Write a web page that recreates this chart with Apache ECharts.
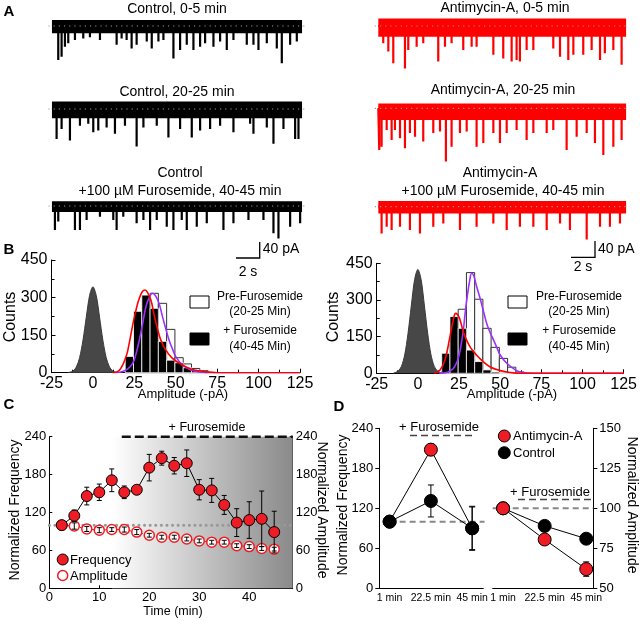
<!DOCTYPE html>
<html><head><meta charset="utf-8">
<script src="https://cdn.jsdelivr.net/npm/echarts@6/dist/echarts.min.js"></script>
<style>html,body{margin:0;padding:0;background:#fff}#c{width:640px;height:621px}</style>
</head><body><div id="c"></div>
<script>
// ---------- Panel A: traces (time s, event amplitude pA) ----------
const traceStart = 0, traceEnd = 21;
const ctrl0Spikes = [[0.53,85],[0.81,77],[1.09,52],[1.37,43],[1.93,35],[2.63,31],[3.19,28],[4.03,35],[5.43,47],[5.85,31],[6.27,35],[6.69,56],[7.11,47],[7.96,39],[8.38,56],[8.94,39],[9.36,35],[10.2,81],[10.76,60],[11.32,47],[11.88,60],[12.44,52],[12.86,43],[13.56,52],[14.12,39],[14.68,60],[15.24,35],[16.36,47],[16.92,47],[17.34,60],[18.04,43],[18.88,56],[19.3,93],[20.0,47],[20.56,39]];
const ctrl20Spikes = [[0.39,75],[0.81,50],[1.51,79],[2.35,42],[3.05,37],[3.47,58],[3.89,54],[4.59,46],[5.29,62],[6.13,42],[7.11,94],[7.68,46],[8.8,42],[9.78,71],[10.76,50],[11.74,71],[12.44,54],[13.28,50],[14.12,42],[15.24,58],[16.64,37],[16.92,62],[18.04,46],[18.6,87],[19.44,50],[20.42,75],[20.7,75]];
const ctrl40Spikes = [[0.25,60],[0.53,39],[1.93,60],[2.35,60],[2.91,35],[4.03,27],[5.15,35],[5.43,60],[5.99,27],[7.11,43],[7.68,35],[8.24,60],[8.8,35],[9.64,52],[10.2,60],[10.9,35],[11.32,60],[12.16,52],[13.0,43],[14.4,60],[15.24,43],[16.5,35],[17.76,35],[18.6,68],[19.02,81],[20.0,52],[20.84,43]];
const anti0Spikes = [[0.42,43],[0.85,64],[1.27,93],[2.26,106],[2.54,60],[3.25,52],[3.81,43],[5.08,89],[5.65,52],[6.21,43],[7.2,60],[7.91,52],[8.33,52],[9.75,72],[10.59,81],[11.3,89],[11.72,85],[12.0,89],[12.57,60],[13.14,60],[14.83,56],[15.4,77],[16.1,85],[16.53,72],[17.37,72],[18.08,60],[18.79,85],[19.2,68],[19.92,60],[20.62,97]];
const anti20Spikes = [[0.08,104],[0.28,96],[0.71,54],[1.13,79],[1.41,54],[1.84,75],[2.26,100],[2.68,62],[3.11,71],[3.81,83],[4.66,62],[5.23,58],[5.73,133],[6.21,96],[6.92,62],[7.49,58],[8.33,96],[8.9,87],[9.75,62],[10.31,87],[10.88,62],[11.72,54],[12.57,79],[13.14,62],[14.27,62],[14.83,54],[15.96,104],[16.81,71],[17.66,62],[18.36,87],[19.07,117],[19.92,96],[20.62,79]];
const anti40Spikes = [[0.28,67],[0.71,50],[1.13,58],[1.84,50],[2.68,58],[3.53,67],[4.66,50],[5.51,42],[6.92,58],[8.33,50],[9.75,42],[10.88,58],[12.0,50],[13.14,50],[14.27,58],[15.4,42],[16.24,58],[17.66,82],[18.79,50],[19.63,50],[20.48,42]];
// noise envelope [above, below] baseline, pA
const ctrl0Band = [15,18], ctrl20Band = [19,23], ctrl40Band = [12,15];
const anti0Band = [19,27], anti20Band = [12,29], anti40Band = [14,17];
const traceTitlesLeft = ['Control, 0-5 min','Control, 20-25 min','Control','+100 µM Furosemide, 40-45 min'];
const traceTitlesRight = ['Antimycin-A, 0-5 min','Antimycin-A, 20-25 min','Antimycin-A','+100 µM Furosemide, 40-45 min'];

// ---------- Panel B: amplitude histograms ----------
const binWidth = 5;
const ctrlBinStarts = [19.5,24.5,29.5,34.5,39.5,44.5,49.5,54.5,59.5,64.5];
const ctrlPreCounts = [10,80,230,317,277,173,60,35,17,8];
const ctrlFuroCounts = [65,245,310,257,125,50,40,20,10,5];
const antiBinStarts = [14.5,19.5,24.5,29.5,34.5,39.5,44.5,49.5,54.5,59.5];
const antiPreCounts = [10,120,262,412,303,184,106,61,25,5];
const antiFuroCounts = [82,232,184,95,48,14,5,0,0,0];
const ctrlNoise = [[-15,0],[-12,7],[-10,23],[-8,61],[-6,130],[-4,222],[-2,309],[0,343],[2,309],[4,222],[6,130],[8,61],[10,23],[12,7],[15,0]];
const antiNoise = [[-15,0],[-12,9],[-10,28],[-8,75],[-6,162],[-4,275],[-2,383],[0,425],[2,383],[4,275],[6,162],[8,75],[10,28],[12,9],[15,0]];
const ctrlFuroFit = [[12,0],[16,10],[20,64],[22,120],[24,190],[26,250],[28,297],[30,325],[31.5,330],[33,320],[35,290],[37,230],[39,175],[41,130],[44,90],[48,57],[54,31],[60,13],[68,4],[75,0],[125,0]];
const ctrlPreFit = [[14,0],[18,5],[21,15],[24,37],[26,75],[28,130],[30,195],[32,264],[34,300],[36,317],[38,305],[40,275],[42,224],[44,175],[46,130],[48,95],[50,64],[54,31],[59,11],[64,3],[70,0],[125,0]];
const antiFuroFit = [[10,0],[13.5,14],[16.5,55],[19.5,150],[21.5,218],[23,245],[25,230],[27,185],[29,145],[32,105],[36,72],[40,46],[44,26],[50,11],[56,3],[62,0],[125,0]];
const antiPreFit = [[13,0],[18,4],[21.5,20],[24,50],[25.7,95],[27.5,170],[28.7,245],[30,315],[31.5,380],[32.7,409],[34,398],[35.5,360],[37.8,307],[40,250],[42,200],[44,165],[46,136],[48,105],[50,75],[54,41],[60,11],[64,3],[70,0],[125,0]];

// ---------- Panel C: time course ----------
const timeMin = [2.5,5,7.5,10,12.5,15,17.5,20,22.5,25,27.5,30,32.5,35,37.5,40,42.5,45];
const normFreq = [100,115,146,152,171,152,156,191,206,194,198,156,155,132,104,108,110,89];
const normFreqErr = [3,9,14,13,18,10,6,21,11,13,21,16,19,15,22,29,44,33];
const normAmp = [100,98.6,94,92,93,93,89,84,81,81,78,75,73,73,67.5,66,63,62];
const normAmpErr = [3,5,4,4,3,4,4,3,3,3,3,3,3,3,3,3,3,3];
const furoStartMin = 14.5, timeAxisMax = 48.7, gradientStartMin = 12.5;

// ---------- Panel D: summary ----------
const dCats = ['1 min','22.5 min','45 min'];
const dFreqAnti = [100,208,90], dFreqAntiErr = [0,9,33];
const dFreqCtrl = [100,131,90], dFreqCtrlErr = [0,24,32];
const dAmpAnti = [100,80.5,62], dAmpAntiErr = [0,1.5,4.5];
const dAmpCtrl = [100,89,81], dAmpCtrlErr = [0,1,1.5];
const refLevel = 100;

// ---------- helpers ----------
const FONT = 'Liberation Sans, Arial, sans-serif';
const RED = '#ee1c24';
function spikePath(spikes){
  const pts=[[traceStart,0]];
  spikes.forEach(s=>{pts.push([s[0],0],[s[0],-s[1]],[s[0],0]);});
  pts.push([traceEnd,0]);
  return pts;
}
function histRender(fill, stroke, lw){
  return function(params, api){
    const p0 = api.coord([api.value(0), api.value(2)]);
    const p1 = api.coord([api.value(1), 0]);
    return {type:'rect', shape:{x:p0[0], y:p0[1], width:p1[0]-p0[0], height:p1[1]-p0[1]}, style:{fill:fill, stroke:stroke, lineWidth:lw}};
  };
}
function errRender(cap){
  return function(params, api){
    const x=api.value(0), y=api.value(1), e=api.value(2);
    if(!e) return {type:'group', children:[]};
    const a=api.coord([x,y+e]), b=api.coord([x,y-e]);
    const st={stroke:'#000', lineWidth:1};
    return {type:'group', children:[
      {type:'line', shape:{x1:a[0],y1:a[1],x2:b[0],y2:b[1]}, style:st},
      {type:'line', shape:{x1:a[0]-cap,y1:a[1],x2:a[0]+cap,y2:a[1]}, style:st},
      {type:'line', shape:{x1:b[0]-cap,y1:b[1],x2:b[0]+cap,y2:b[1]}, style:st}]};
  };
}
function bins(starts, counts){ return starts.map((s,i)=>[s, s+binWidth, counts[i]]); }
function txt(text, x, y, size, o){
  o = o || {};
  return {type:'text', x:x, y:y, rotation:o.rot||0, z:100,
    style:{text:text, font:(o.bold?'bold ':'')+size+'px '+FONT, fill:o.fill||'#000',
      textAlign:o.align||'center', textVerticalAlign:'middle', align:o.align||'center', verticalAlign:'middle'}};
}
const axLine = {show:true, onZero:false, lineStyle:{color:'#000', width:1}};

// ---------- grids & axes ----------
const grid = [
  {left:46, top:6, width:262, height:76},
  {left:46, top:89, width:262, height:76},
  {left:46, top:186, width:262, height:76},
  {left:372.4, top:6, width:259.6, height:76},
  {left:372.4, top:88.3, width:259.6, height:76},
  {left:372.4, top:186.7, width:259.6, height:76},
  {left:51.5, top:260, width:248.5, height:112.7},
  {left:376.7, top:263.3, width:247.3, height:110},
  {left:49.3, top:436.7, width:243.4, height:151.6},
  {left:379.3, top:428.3, width:104, height:160},
  {left:492.7, top:428.3, width:100.6, height:160}
];
const xAxis = [], yAxis = [];
for(let i=0;i<6;i++){
  xAxis.push({gridIndex:i, type:'value', min:-0.5, max:21.5, show:false});
  yAxis.push({gridIndex:i, type:'value', min:-140, max:50, show:false});
}
function histX(g){ return {gridIndex:g, type:'value', min:-25, max:125, interval:25, axisLine:axLine,
  axisTick:{show:true, inside:true, length:4, lineStyle:{color:'#000'}}, minorTick:{show:true, splitNumber:2, length:3, lineStyle:{color:'#000'}},
  splitLine:{show:false}, axisLabel:{fontSize:16, color:'#000', fontFamily:FONT, margin:3}}; }
function histY(g){ return {gridIndex:g, type:'value', min:0, max:450, interval:150, axisLine:axLine,
  axisTick:{show:true, inside:true, length:4, lineStyle:{color:'#000'}}, minorTick:{show:true, splitNumber:2, length:3, lineStyle:{color:'#000'}},
  splitLine:{show:false},
  axisLabel:{fontSize:16, color:'#000', fontFamily:FONT, margin:4}}; }
xAxis.push(histX(6)); yAxis.push(histY(6));
xAxis.push(histX(7)); yAxis.push(histY(7));
// C
xAxis.push({gridIndex:8, type:'value', min:0, max:timeAxisMax, axisLine:axLine, splitLine:{show:false},
  axisTick:{show:true, inside:true, length:3, customValues:[0,10,20,30,40], lineStyle:{color:'#000'}},
  axisLabel:{fontSize:13, color:'#000', fontFamily:FONT, margin:3, customValues:[0,10,20,30,40]}});
yAxis.push({gridIndex:8, type:'value', min:0, max:240, interval:60, axisLine:axLine, splitLine:{show:false},
  axisTick:{show:true, inside:true, length:3, lineStyle:{color:'#000'}},
  axisLabel:{fontSize:13, color:'#000', fontFamily:FONT, margin:3}});
yAxis.push({gridIndex:8, type:'value', position:'right', min:0, max:240, interval:60, axisLine:axLine, splitLine:{show:false},
  axisTick:{show:true, inside:true, length:3, lineStyle:{color:'#000'}},
  axisLabel:{fontSize:13, color:'#000', fontFamily:FONT, margin:3}});
// D
xAxis.push({gridIndex:9, type:'value', min:0.75, max:3.27, axisLine:axLine, splitLine:{show:false}, axisTick:{show:false},
  axisLabel:{fontSize:10.5, color:'#000', fontFamily:FONT, margin:4, customValues:[1,2,3], formatter:v=>dCats[Math.round(v)-1]}});
yAxis.push({gridIndex:9, type:'value', min:0, max:240, interval:60, axisLine:axLine, splitLine:{show:false},
  axisTick:{show:true, length:4, lineStyle:{color:'#000'}}, axisLabel:{fontSize:13, color:'#000', fontFamily:FONT, margin:6}});
xAxis.push({gridIndex:10, type:'value', min:0.75, max:3.17, axisLine:axLine, splitLine:{show:false}, axisTick:{show:false},
  axisLabel:{fontSize:10.5, color:'#000', fontFamily:FONT, margin:4, customValues:[1,2,3], formatter:v=>dCats[Math.round(v)-1]}});
yAxis.push({gridIndex:10, type:'value', position:'right', min:50, max:150, interval:25, axisLine:axLine, splitLine:{show:false},
  axisTick:{show:true, length:4, lineStyle:{color:'#000'}}, axisLabel:{fontSize:13, color:'#000', fontFamily:FONT, margin:6}});

// ---------- series ----------
const series = [];
const traces = [
  [ctrl0Spikes, ctrl0Band, '#000'], [ctrl20Spikes, ctrl20Band, '#000'], [ctrl40Spikes, ctrl40Band, '#000'],
  [anti0Spikes, anti0Band, '#ff0000'], [anti20Spikes, anti20Band, '#ff0000'], [anti40Spikes, anti40Band, '#ff0000']];
traces.forEach((tr,i)=>{
  series.push({type:'line', xAxisIndex:i, yAxisIndex:i, data:spikePath(tr[0]), showSymbol:false, symbol:'none',
    lineStyle:{color:tr[2], width:2.2}, animation:false, silent:true, z:2,
    markArea:{silent:true, itemStyle:{color:tr[2], opacity:1}, data:[[{xAxis:traceStart, yAxis:tr[1][0]},{xAxis:traceEnd, yAxis:-tr[1][1]}]]}});
  series.push({type:'line', xAxisIndex:i, yAxisIndex:i, data:[[traceStart-0.3,0],[traceEnd+0.3,0]], symbol:'none',
    lineStyle:{color:'#9a9a9a', width:1.2, type:[1.2,4]}, animation:false, silent:true, z:3});
});
function histSeries(g, starts, pre, furo, noise, furoFit, preFit){
  series.push({type:'custom', xAxisIndex:g, yAxisIndex:g, data:bins(starts,pre), encode:{x:[0,1], y:2},
    renderItem:histRender('#fff','#333',1), z:1, animation:false, silent:true});
  series.push({type:'custom', xAxisIndex:g, yAxisIndex:g, data:bins(starts,furo), encode:{x:[0,1], y:2},
    renderItem:histRender('#000','#fff',0.8), z:2, animation:false, silent:true});
  series.push({type:'line', xAxisIndex:g, yAxisIndex:g, data:noise, smooth:0.3, symbol:'none',
    lineStyle:{color:'#3a3a3a', width:1}, areaStyle:{color:'#474747', opacity:1}, z:3, animation:false, silent:true});
  series.push({type:'line', xAxisIndex:g, yAxisIndex:g, data:preFit, smooth:0.4, symbol:'none',
    lineStyle:{color:'#9b30ff', width:1.6}, z:4, animation:false, silent:true});
  series.push({type:'line', xAxisIndex:g, yAxisIndex:g, data:furoFit, smooth:0.4, symbol:'none',
    lineStyle:{color:'#ff0000', width:1.6}, z:5, animation:false, silent:true});
}
histSeries(6, ctrlBinStarts, ctrlPreCounts, ctrlFuroCounts, ctrlNoise, ctrlFuroFit, ctrlPreFit);
histSeries(7, antiBinStarts, antiPreCounts, antiFuroCounts, antiNoise, antiFuroFit, antiPreFit);

// C
series.push({type:'line', xAxisIndex:8, yAxisIndex:8, data:[[0,refLevel],[timeAxisMax,refLevel]], symbol:'none',
  lineStyle:{color:'#999', width:3, type:[0.1,5.5], cap:'round'}, z:2, animation:false, silent:true,
  markArea:{silent:true, z:1, itemStyle:{color:{type:'linear', x:0, y:0, x2:1, y2:0,
    colorStops:[{offset:0,color:'#ffffff'},{offset:1,color:'#8a8a8a'}]}},
    data:[[{xAxis:gradientStartMin, yAxis:0},{xAxis:timeAxisMax, yAxis:240}]]}});
series.push({type:'line', xAxisIndex:8, yAxisIndex:8, data:[[furoStartMin,240],[timeAxisMax,240]], symbol:'none',
  lineStyle:{color:'#111', width:2.5, type:[9,4]}, z:3, animation:false, silent:true, clip:false});
series.push({type:'line', xAxisIndex:8, yAxisIndex:9, data:timeMin.map((t,i)=>[t,normAmp[i]]), symbol:'circle', symbolSize:10,
  lineStyle:{color:RED, width:1, type:[4,2]}, itemStyle:{color:'#fff', borderColor:RED, borderWidth:1.5}, z:4, animation:false, silent:true});
series.push({type:'custom', xAxisIndex:8, yAxisIndex:9, data:timeMin.map((t,i)=>[t,normAmp[i],normAmpErr[i]]),
  renderItem:errRender(2.5), z:5, animation:false, silent:true});
series.push({type:'custom', xAxisIndex:8, yAxisIndex:8, data:timeMin.map((t,i)=>[t,normFreq[i],normFreqErr[i]]),
  renderItem:errRender(2.5), z:6, animation:false, silent:true});
series.push({type:'line', xAxisIndex:8, yAxisIndex:8, data:timeMin.map((t,i)=>[t,normFreq[i]]), symbol:'circle', symbolSize:11,
  lineStyle:{color:'#000', width:1}, itemStyle:{color:RED, borderColor:'#000', borderWidth:1}, z:7, animation:false, silent:true});

// D
function dSeries(xi, yi, vals, errs, color, z){
  series.push({type:'custom', xAxisIndex:xi, yAxisIndex:yi, data:vals.map((v,i)=>[i+1,v,errs[i]]),
    renderItem:errRender(3), z:z-1, animation:false, silent:true});
  series.push({type:'line', xAxisIndex:xi, yAxisIndex:yi, data:vals.map((v,i)=>[i+1,v]), symbol:'circle', symbolSize:13,
    lineStyle:{color:'#000', width:1}, itemStyle:{color:color, borderColor:'#000', borderWidth:1}, z:z, animation:false, silent:true});
}
series.push({type:'line', xAxisIndex:9, yAxisIndex:10, data:[[1,refLevel],[3.3,refLevel]], symbol:'none',
  lineStyle:{color:'#888', width:2, type:[6,4]}, z:1, animation:false, silent:true, clip:false});
series.push({type:'line', xAxisIndex:10, yAxisIndex:11, data:[[0.75,refLevel],[3.17,refLevel]], symbol:'none',
  lineStyle:{color:'#888', width:2, type:[6,4]}, z:1, animation:false, silent:true});
dSeries(9, 10, dFreqAnti, dFreqAntiErr, RED, 4);
dSeries(9, 10, dFreqCtrl, dFreqCtrlErr, '#000', 6);
dSeries(10, 11, dAmpCtrl, dAmpCtrlErr, '#000', 4);
dSeries(10, 11, dAmpAnti, dAmpAntiErr, RED, 6);

// ---------- annotations ----------
const g = [];
g.push(txt('A', 9, 12, 15, {bold:true}));
g.push(txt('B', 9, 250, 15, {bold:true}));
g.push(txt('C', 9, 405, 15, {bold:true}));
g.push(txt('D', 339, 407, 15, {bold:true}));
g.push(txt(traceTitlesLeft[0], 177, 9, 14));
g.push(txt(traceTitlesLeft[1], 177, 92, 14));
g.push(txt(traceTitlesLeft[2], 180, 173, 14));
g.push(txt(traceTitlesLeft[3], 180, 191, 14));
g.push(txt(traceTitlesRight[0], 505, 8, 14));
g.push(txt(traceTitlesRight[1], 503, 90, 14));
g.push(txt(traceTitlesRight[2], 500, 173, 14));
g.push(txt(traceTitlesRight[3], 503, 191, 14));
// scale bars (40 pA, 2 s)
[[259.7, 242, 236, 258], [595, 241, 571, 257.3]].forEach((s,i)=>{
  g.push({type:'polyline', shape:{points:[[s[0],s[1]],[s[0],s[3]],[s[2],s[3]]]}, style:{stroke:'#000', lineWidth:1.3, fill:null}, z:100});
  g.push(txt('40 pA', s[0]+3, 249.5, 14, {align:'left'}));
  g.push(txt('2 s', i===0?248:583, i===0?272:267, 14));
});
// B labels
g.push(txt('Counts', 11, 317, 16, {rot:Math.PI/2}));
g.push(txt('Counts', 334, 317, 16, {rot:Math.PI/2}));
g.push(txt('Amplitude (-pA)', 183, 394, 13));
g.push(txt('Amplitude (-pA)', 512, 394, 13));
[[190, 260], [508, 579]].forEach(p=>{
  g.push({type:'rect', shape:{x:p[0], y:296, width:19, height:12}, style:{fill:'#fff', stroke:'#000', lineWidth:1}, z:100});
  g.push({type:'rect', shape:{x:p[0], y:333, width:19, height:12}, style:{fill:'#000', stroke:'#000', lineWidth:1}, z:100});
  g.push(txt('Pre-Furosemide', p[1], 297, 12));
  g.push(txt('(20-25 Min)', p[1], 312, 12));
  g.push(txt('+ Furosemide', p[1], 331, 12));
  g.push(txt('(40-45 Min)', p[1], 347, 12));
});
// C labels
g.push(txt('+ Furosemide', 207, 428, 12.5));
g.push(txt('Normalized Frequency', 15, 510, 14, {rot:Math.PI/2}));
g.push(txt('Normalized Amplitude', 322, 510, 14, {rot:-Math.PI/2}));
g.push(txt('Time (min)', 173, 612, 12.5));
g.push({type:'circle', shape:{cx:62.7, cy:559.5, r:5.5}, style:{fill:RED, stroke:'#000', lineWidth:1}, z:100});
g.push(txt('Frequency', 70, 560, 13, {align:'left'}));
g.push({type:'circle', shape:{cx:62.7, cy:575.5, r:5}, style:{fill:'#fff', stroke:RED, lineWidth:1.5}, z:100});
g.push(txt('Amplitude', 70, 576, 13, {align:'left'}));
// D labels
g.push(txt('Normalized Frequency', 343, 505, 14, {rot:Math.PI/2}));
g.push(txt('Normalized Amplitude', 632, 505, 14, {rot:-Math.PI/2}));
g.push(txt('+ Furosemide', 439, 427, 13));
g.push({type:'line', shape:{x1:410, y1:435.5, x2:474, y2:435.5}, style:{stroke:'#444', lineWidth:1.3, lineDash:[7,4]}, z:100});
g.push(txt('+ Furosemide', 550, 492, 13));
g.push({type:'line', shape:{x1:518, y1:499.5, x2:591, y2:499.5}, style:{stroke:'#444', lineWidth:1.3, lineDash:[7,4]}, z:100});
g.push({type:'circle', shape:{cx:504.3, cy:436, r:6}, style:{fill:RED, stroke:'#000', lineWidth:1}, z:100});
g.push(txt('Antimycin-A', 513, 436.5, 13, {align:'left'}));
g.push({type:'circle', shape:{cx:504.3, cy:452.7, r:6}, style:{fill:'#000', stroke:'#000', lineWidth:1}, z:100});
g.push(txt('Control', 513, 453, 13, {align:'left'}));

const chart = echarts.init(document.getElementById('c'), null, {renderer:'canvas'});
chart.setOption({animation:false, backgroundColor:'#fff', grid:grid, xAxis:xAxis, yAxis:yAxis, series:series, graphic:{elements:g}});
</script></body></html>
